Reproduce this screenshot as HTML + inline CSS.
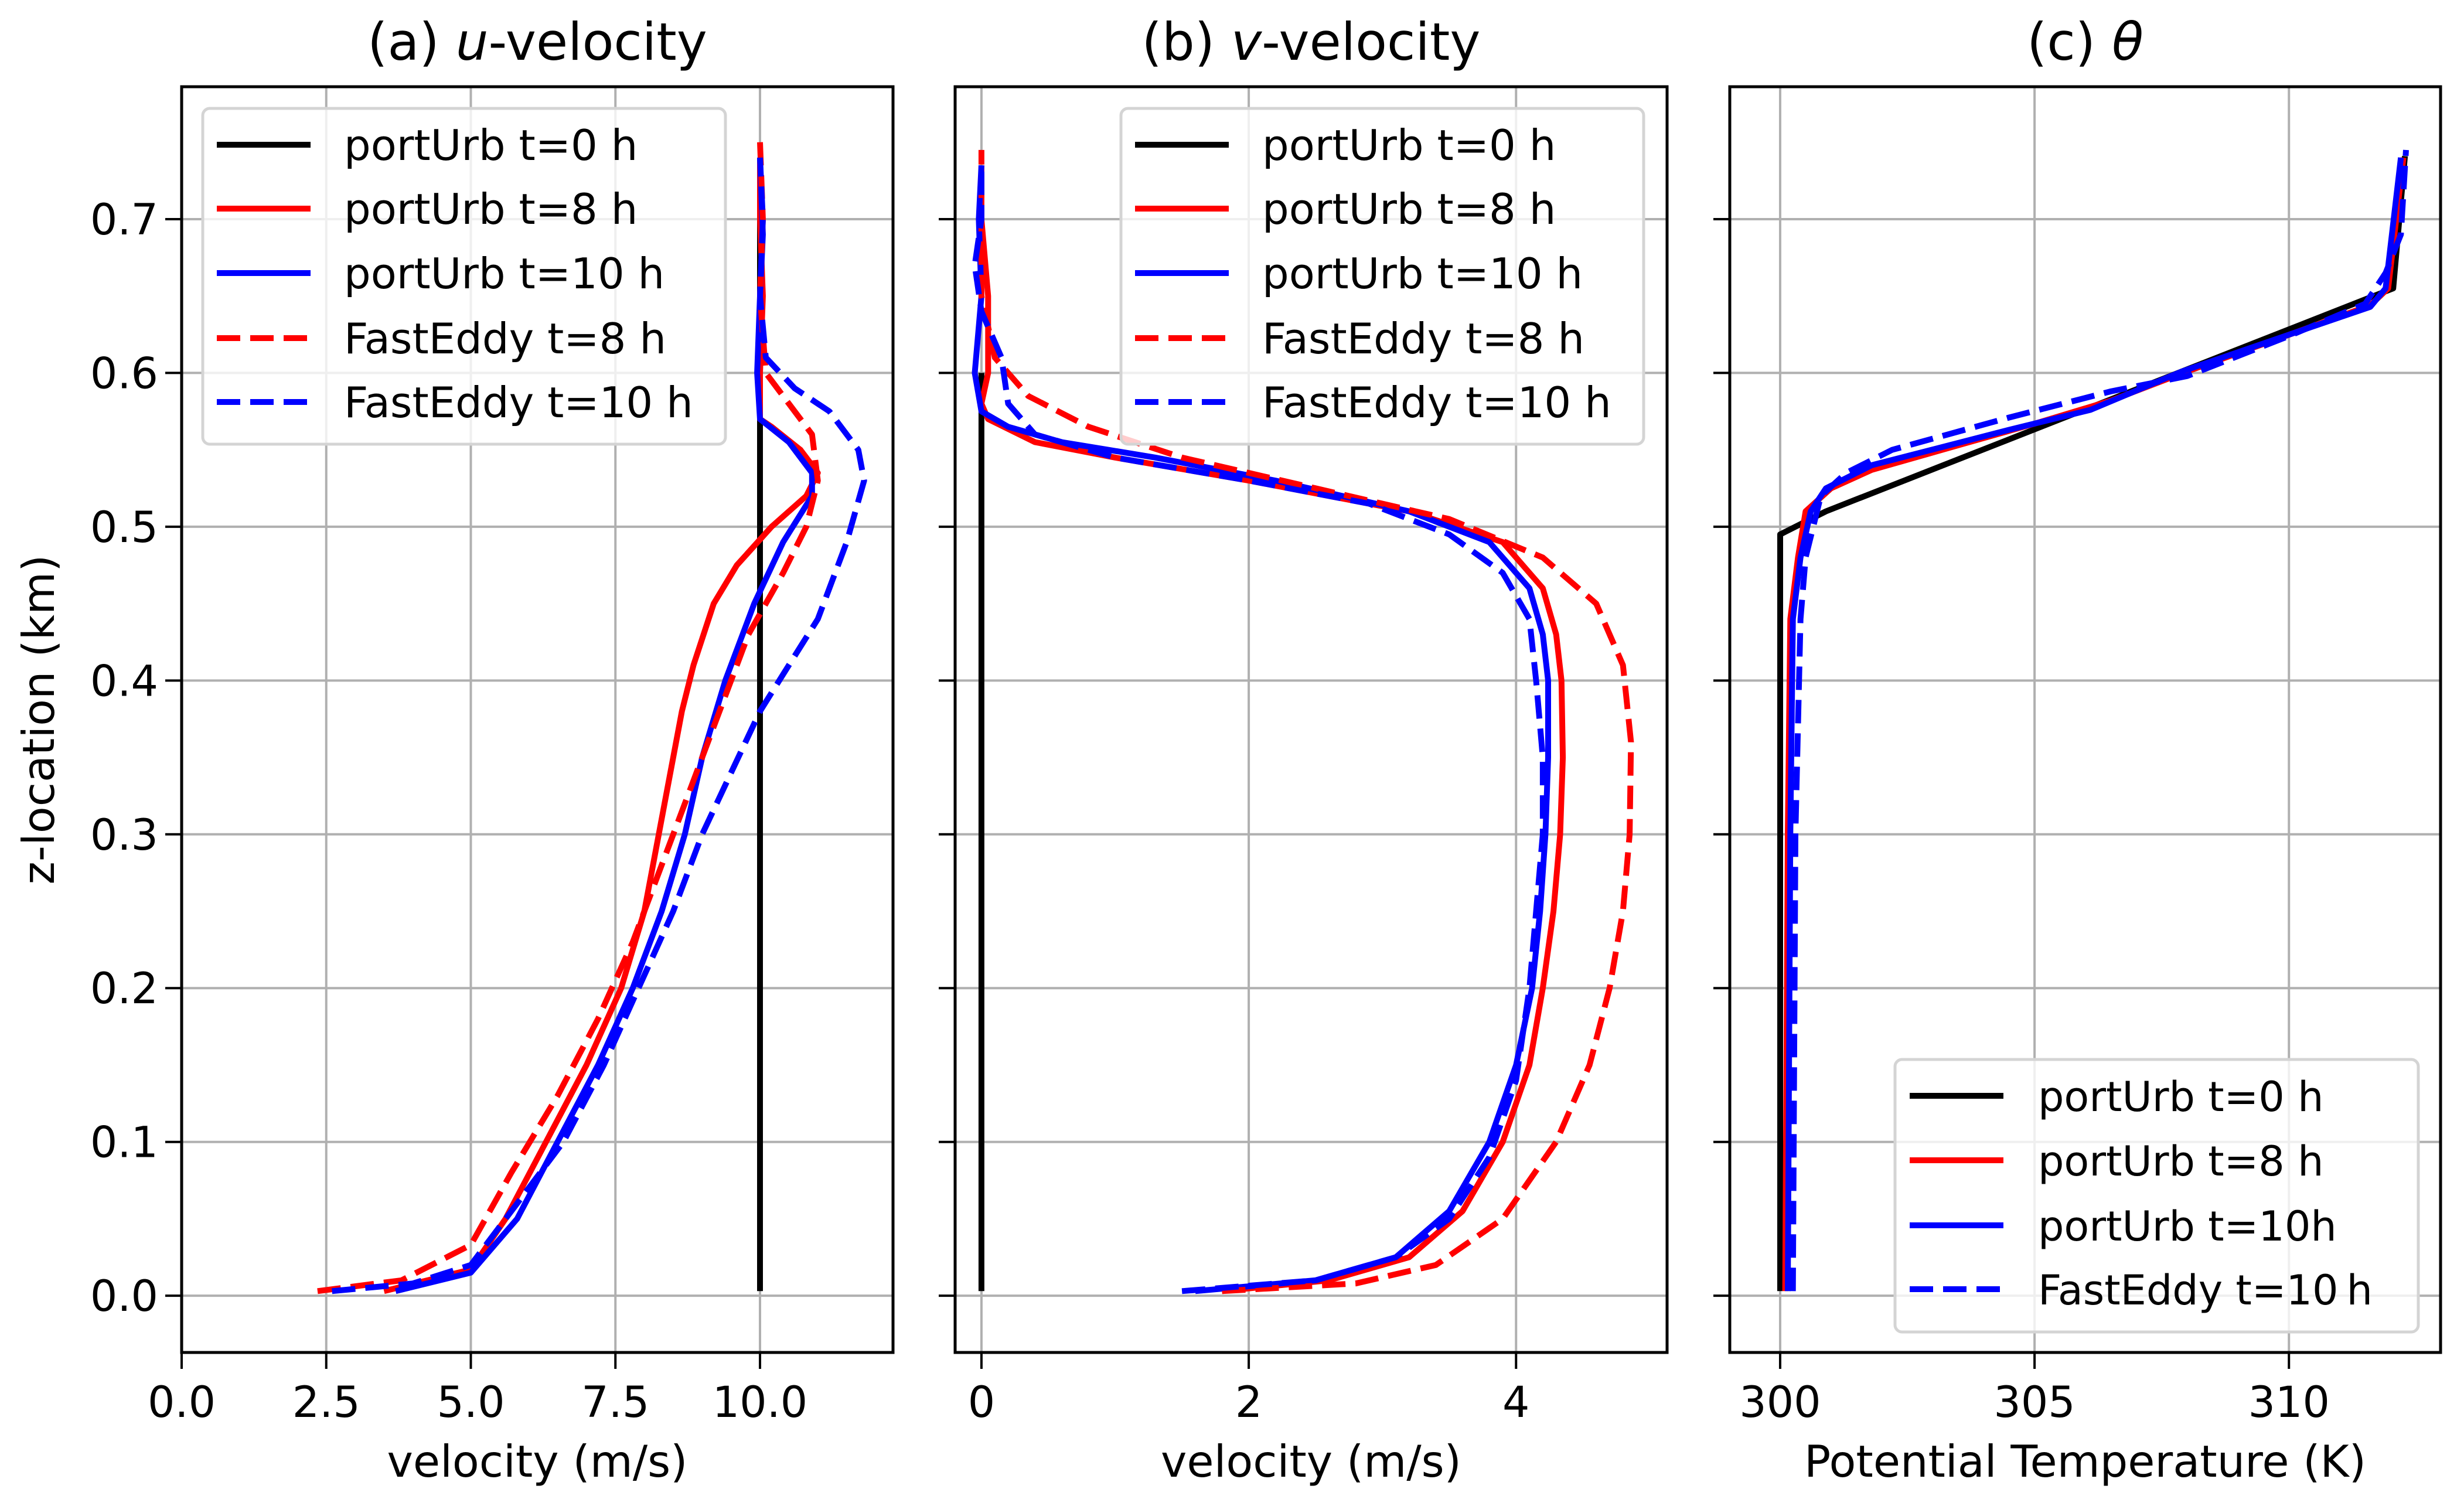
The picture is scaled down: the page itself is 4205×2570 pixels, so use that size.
<!DOCTYPE html>
<html><head><meta charset="utf-8"><style>
html,body{margin:0;padding:0;background:#fff}
svg{display:block;font-family:"DejaVu Sans","Liberation Sans",sans-serif}
</style></head><body>
<svg id="fig" xmlns="http://www.w3.org/2000/svg" width="4205" height="2570" viewBox="0 0 4205 2570"></svg>
<script>
// ---------- data ----------
const uBlack = [[10,0.003],[10,0.74]];
const uPU8 = [[3.5,0.003],[5.0,0.017],[5.6,0.05],[6.3,0.1],[7.0,0.15],[7.6,0.2],[8.0,0.25],[8.35,0.32],[8.65,0.38],[8.85,0.41],[9.2,0.45],[9.6,0.475],[10.2,0.5],[10.8,0.52],[11.0,0.535],[10.7,0.55],[10.2,0.565],[10.0,0.57],[10.0,0.6],[10.05,0.65],[10.0,0.7],[10.0,0.74]];
const uPU10 = [[3.7,0.003],[5.0,0.015],[5.8,0.05],[6.5,0.1],[7.2,0.15],[7.8,0.2],[8.3,0.25],[8.7,0.3],[9.0,0.35],[9.4,0.4],[9.9,0.45],[10.4,0.49],[10.9,0.52],[10.9,0.535],[10.5,0.555],[10.0,0.57],[9.95,0.6],[10.0,0.65],[10.05,0.69],[10.0,0.74]];
const uFE8 = [[2.35,0.003],[3.8,0.01],[5.0,0.033],[5.7,0.08],[6.5,0.13],[7.2,0.18],[7.8,0.23],[8.3,0.28],[8.8,0.33],[9.3,0.38],[9.8,0.43],[10.4,0.47],[10.8,0.5],[11.0,0.53],[10.9,0.56],[10.5,0.58],[10.1,0.6],[10.0,0.65],[10.05,0.7],[10.0,0.75]];
const uFE10 = [[2.6,0.003],[4.0,0.008],[5.0,0.02],[5.8,0.06],[6.6,0.1],[7.3,0.15],[7.9,0.2],[8.5,0.25],[9.0,0.3],[9.5,0.34],[10.0,0.38],[10.5,0.41],[11.0,0.44],[11.5,0.49],[11.8,0.53],[11.7,0.55],[11.2,0.575],[10.6,0.59],[10.1,0.61],[10.0,0.65],[10.05,0.7],[10.0,0.74]];

const vBlack = [[0,0.003],[0,0.6]];
const vPU8 = [[1.8,0.003],[2.6,0.01],[3.2,0.025],[3.6,0.055],[3.9,0.1],[4.1,0.15],[4.2,0.2],[4.28,0.25],[4.33,0.3],[4.35,0.35],[4.34,0.4],[4.3,0.43],[4.2,0.46],[3.9,0.49],[3.2,0.51],[2.0,0.53],[1.0,0.545],[0.4,0.555],[0.05,0.57],[0.0,0.58],[0.05,0.6],[0.05,0.65],[0.0,0.7],[0.0,0.735]];
const vPU10 = [[1.6,0.003],[2.5,0.01],[3.1,0.025],[3.5,0.055],[3.8,0.1],[4.0,0.15],[4.12,0.2],[4.18,0.25],[4.22,0.3],[4.24,0.35],[4.24,0.4],[4.2,0.43],[4.1,0.46],[3.8,0.49],[3.2,0.51],[2.2,0.53],[1.3,0.545],[0.6,0.555],[0.2,0.565],[0.0,0.575],[-0.05,0.6],[0.0,0.65],[-0.02,0.7],[0.0,0.735]];
const vFE8 = [[1.8,0.003],[2.8,0.008],[3.4,0.02],[3.9,0.05],[4.3,0.1],[4.55,0.15],[4.7,0.2],[4.8,0.25],[4.85,0.3],[4.86,0.36],[4.8,0.41],[4.6,0.45],[4.2,0.48],[3.5,0.505],[2.5,0.525],[1.5,0.545],[0.8,0.565],[0.35,0.585],[0.1,0.61],[0.0,0.65],[0.0,0.7],[0.0,0.745]];
const vFE10 = [[1.5,0.003],[2.5,0.01],[3.1,0.025],[3.5,0.05],[3.8,0.09],[4.0,0.14],[4.1,0.2],[4.15,0.25],[4.2,0.3],[4.2,0.35],[4.15,0.4],[4.1,0.44],[3.9,0.47],[3.5,0.495],[2.9,0.515],[2.0,0.53],[1.0,0.545],[0.4,0.56],[0.2,0.58],[0.15,0.61],[0.0,0.64],[-0.05,0.67],[0.0,0.7],[0.0,0.735]];

const tBlack = [[300.0,0.003],[300.0,0.495],[300.9,0.51],[312.05,0.655],[312.28,0.741]];
const tPU8 = [[300.1,0.003],[300.15,0.3],[300.2,0.44],[300.35,0.48],[300.5,0.51],[301.0,0.525],[301.8,0.537],[303.5,0.553],[305.0,0.567],[306.5,0.582],[308.0,0.601],[310.1,0.626],[311.6,0.644],[311.95,0.655],[312.25,0.74]];
const tPU10 = [[300.15,0.003],[300.2,0.3],[300.25,0.44],[300.4,0.48],[300.6,0.51],[300.9,0.525],[301.8,0.54],[304.5,0.563],[306.1,0.576],[307.9,0.601],[310.1,0.626],[311.6,0.643],[311.9,0.655],[312.2,0.74]];
const tFE10 = [[300.25,0.003],[300.3,0.3],[300.4,0.44],[300.5,0.48],[300.8,0.52],[301.3,0.535],[302.2,0.55],[304.5,0.571],[306.5,0.588],[308.0,0.598],[310.0,0.624],[311.5,0.645],[311.9,0.665],[312.2,0.69],[312.3,0.745]];

const yTicks = [0.0,0.1,0.2,0.3,0.4,0.5,0.6,0.7];
const yTickLabels = ["0.0","0.1","0.2","0.3","0.4","0.5","0.6","0.7"];
const aTicks = [0,2.5,5,7.5,10];
const aTickLabels = ["0.0","2.5","5.0","7.5","10.0"];
const bTicks = [0,2,4];
const bTickLabels = ["0","2","4"];
const cTicks = [300,305,310];
const cTickLabels = ["300","305","310"];
const legendLabelsAB = ["portUrb t=0 h","portUrb t=8 h","portUrb t=10 h","FastEddy t=8 h","FastEddy t=10 h"];
const legendLabelsC = ["portUrb t=0 h","portUrb t=8 h","portUrb t=10h","FastEddy t=10\u2009h"];

// ---------- layout ----------
const NS = "http://www.w3.org/2000/svg";
const svg = document.getElementById('fig');
const TOP = 148, BOT = 2308;
const yMin = -0.0369, yMax = 0.7861;
function yS(z){ return BOT - (z - yMin)/(yMax - yMin)*(BOT-TOP); }
function mk(tag, attrs, parent){
  const e = document.createElementNS(NS, tag);
  for (const k in attrs) e.setAttribute(k, attrs[k]);
  (parent||svg).appendChild(e);
  return e;
}
const styles = {
  black:{stroke:'#000000',dash:null},
  pu8:{stroke:'#ff0000',dash:null},
  pu10:{stroke:'#0000ff',dash:null},
  fe8:{stroke:'#ff0000',dash:'40 17'},
  fe10:{stroke:'#0000ff',dash:'40 17'}
};
const LW = 10;

function panel(key, L, R, xMin, xMax, ticks, tickLabels, title, xlabel, series, showYLabels){
  const g = mk('g', {});
  
  
  const xS = x => L + (x - xMin)/(xMax - xMin)*(R-L);
  ticks.forEach((t,i)=>{
    const gl = mk('line',{x1:xS(t),x2:xS(t),y1:TOP,y2:BOT,stroke:'#b0b0b0','stroke-width':4},g);
    
    
  });
  yTicks.forEach(t=>{
    const gl = mk('line',{x1:L,x2:R,y1:yS(t),y2:yS(t),stroke:'#b0b0b0','stroke-width':4},g);
    
    
  });
  const clipId = 'clip-' + key;
  const cp = mk('clipPath',{id:clipId},g);
  mk('rect',{x:L,y:TOP,width:R-L,height:BOT-TOP},cp);
  series.forEach(s=>{
    const st = styles[s.style];
    const d = s.data.map((p,i)=>(i?'L':'M')+xS(p[0]).toFixed(1)+' '+yS(p[1]).toFixed(1)).join(' ');
    const a = {d:d,fill:'none',stroke:st.stroke,'stroke-width':LW,'stroke-linejoin':'round','clip-path':'url(#'+clipId+')'};
    if (st.dash) a['stroke-dasharray'] = st.dash;
    const p = mk('path',a,g);
    
    
  });
  const fr = mk('rect',{x:L,y:TOP,width:R-L,height:BOT-TOP,fill:'none',stroke:'#000','stroke-width':5},g);
  
  
  ticks.forEach((t,i)=>{
    mk('line',{x1:xS(t),x2:xS(t),y1:BOT,y2:BOT+28,stroke:'#000','stroke-width':4},g);
    const tx = mk('text',{x:xS(t),y:2418,'font-size':73,'text-anchor':'middle',fill:'#000'},g);
    tx.textContent = tickLabels[i];
    
    
  });
  yTicks.forEach((t,i)=>{
    mk('line',{x1:L-28,x2:L,y1:yS(t),y2:yS(t),stroke:'#000','stroke-width':4},g);
    if (showYLabels){
      const tx = mk('text',{x:L-40,y:yS(t)+26,'font-size':73,'text-anchor':'end',fill:'#000'},g);
      tx.textContent = yTickLabels[i];
      
      
    }
  });
  const tt = mk('text',{x:(L+R)/2,y:102,'font-size':88,'text-anchor':'middle',fill:'#000'},g);
  tt.innerHTML = title;
  
  
  const xl = mk('text',{x:(L+R)/2,y:2520,'font-size':75,'text-anchor':'middle',fill:'#000'},g);
  xl.textContent = xlabel;
  
  
  return g;
}

function legend(g, bx, by, bw, bh, rows, labels, lineX, textX, rowYs, fs){
  const lg = mk('g',{},g);
  
  
  mk('rect',{x:bx,y:by,width:bw,height:bh,rx:12,ry:12,fill:'#ffffff','fill-opacity':0.8,stroke:'#d4d4d4','stroke-width':5},lg);
  rows.forEach((r,i)=>{
    const st = styles[r];
    const a = {x1:lineX,x2:lineX+160,y1:rowYs[i],y2:rowYs[i],stroke:st.stroke,'stroke-width':LW};
    if (st.dash) a['stroke-dasharray']=st.dash;
    const ln = mk('line',a,lg);
    
    
    const tx = mk('text',{x:textX,y:rowYs[i]+26,'font-size':fs,fill:'#000'},lg);
    tx.textContent = labels[i];
    
    
  });
}

const gA = panel('a',310,1524,-0.0,12.3,aTicks,aTickLabels,'(a) <tspan font-style="italic">u</tspan>-velocity','velocity (m/s)',
  [{name:'portUrb-t0',style:'black',data:uBlack},{name:'portUrb-t8',style:'pu8',data:uPU8},{name:'portUrb-t10',style:'pu10',data:uPU10},{name:'fasteddy-t8',style:'fe8',data:uFE8},{name:'fasteddy-t10',style:'fe10',data:uFE10}],true);
const gB = panel('b',1630,2845,-0.197,5.13,bTicks,bTickLabels,'(b) <tspan font-style="italic">v</tspan>-velocity','velocity (m/s)',
  [{name:'portUrb-t0',style:'black',data:vBlack},{name:'portUrb-t8',style:'pu8',data:vPU8},{name:'portUrb-t10',style:'pu10',data:vPU10},{name:'fasteddy-t8',style:'fe8',data:vFE8},{name:'fasteddy-t10',style:'fe10',data:vFE10}],false);
const gC = panel('c',2952,4165,299.01,312.98,cTicks,cTickLabels,'(c) <tspan font-style="italic">θ</tspan>','Potential Temperature (K)',
  [{name:'portUrb-t0',style:'black',data:tBlack},{name:'portUrb-t8',style:'pu8',data:tPU8},{name:'portUrb-t10',style:'pu10',data:tPU10},{name:'fasteddy-t10',style:'fe10',data:tFE10}],false);

const rowsAB = ['black','pu8','pu10','fe8','fe10'];
const rowYsAB = [247,356,466,577,686];
legend(gA,346,185,892,573,rowsAB,legendLabelsAB,370,587,rowYsAB,72);
legend(gB,1913,185,892,573,rowsAB,legendLabelsAB,1937,2154,rowYsAB,72);
legend(gC,3234,1808,893,465,['black','pu8','pu10','fe10'],legendLabelsC,3259,3478,[1870,1980,2091,2200],70);

const yl = mk('text',{x:0,y:0,'font-size':75,'text-anchor':'middle',fill:'#000',transform:'translate(92,1228) rotate(-90)'});
yl.textContent = 'z-location (km)';


</script>
</body></html>
